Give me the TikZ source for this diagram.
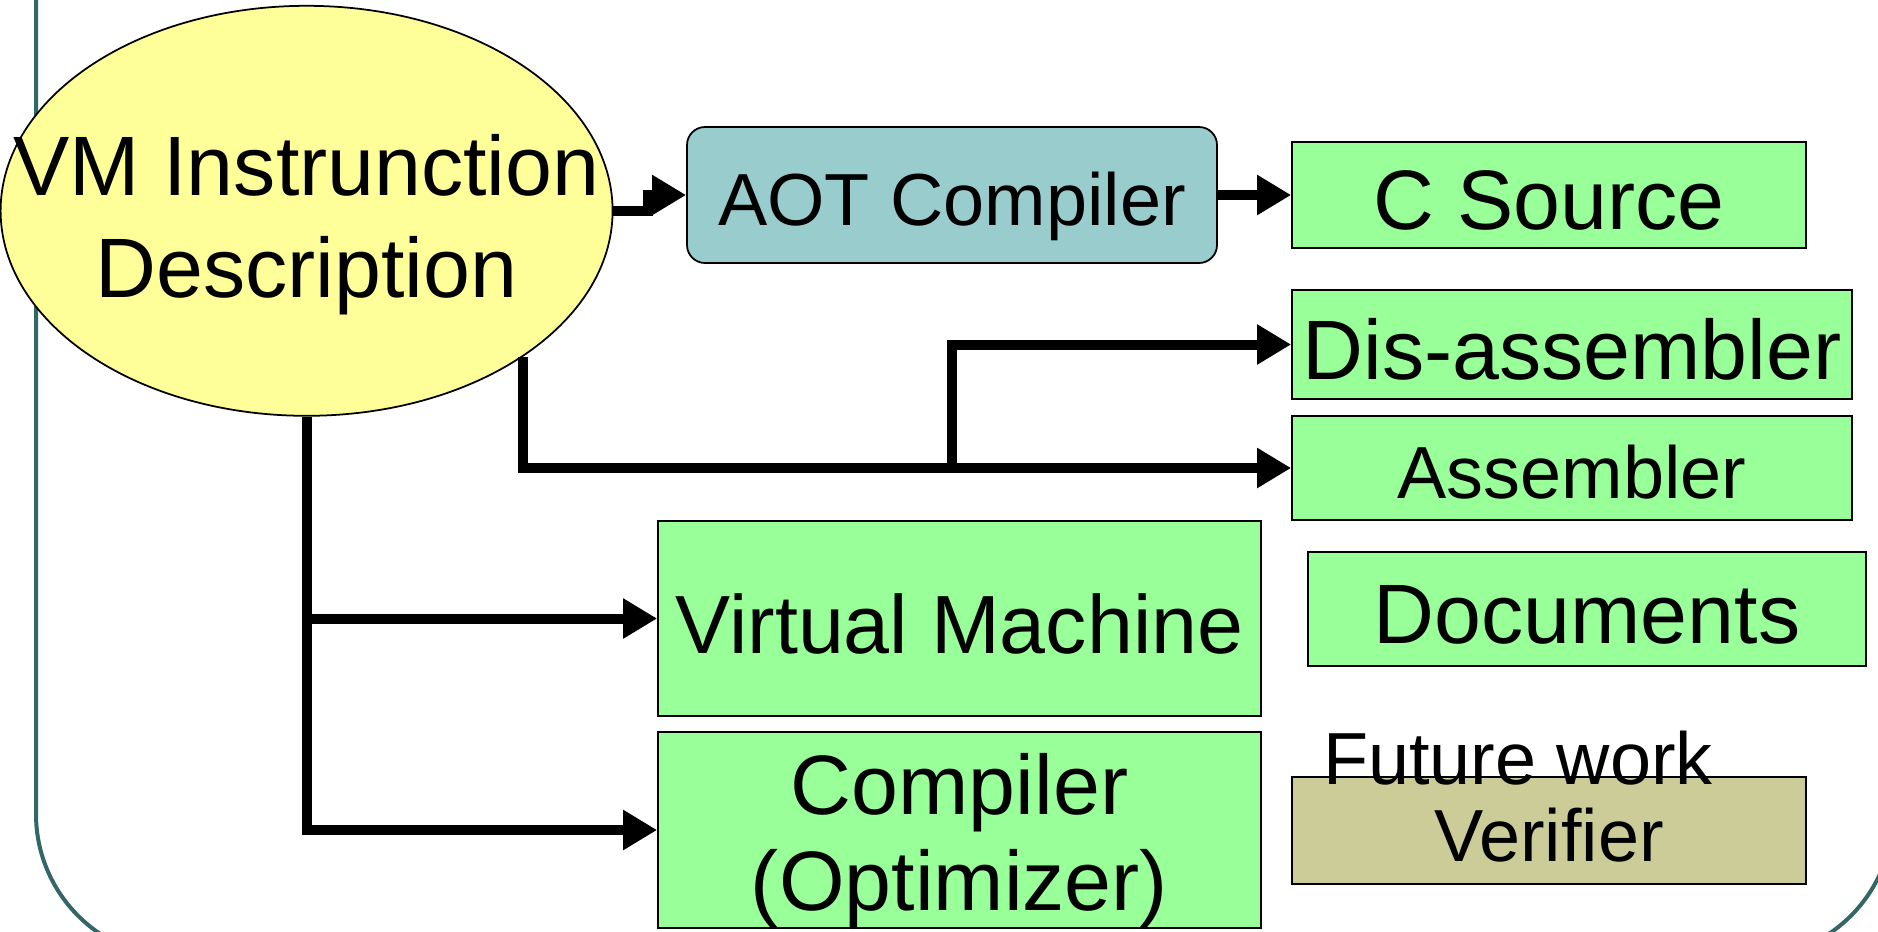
\documentclass[tikz,border=0pt]{standalone}
\usepackage{fontspec}
\setmainfont{Liberation Sans}
\usetikzlibrary{arrows.meta,shapes.geometric}
\definecolor{FrameTeal}{RGB}{51,102,102}
\definecolor{DescYellow}{RGB}{255,255,153}
\definecolor{AotCyan}{RGB}{153,204,204}
\definecolor{ToolGreen}{RGB}{153,255,153}
\definecolor{FutureKhaki}{RGB}{204,204,153}
\tikzset{
    toolbox/.style={rectangle, draw=black, line width=0.5pt, fill=ToolGreen, inner sep=0pt, text height=6.9mm, text depth=0pt, font=\fontsize{24}{29}\selectfont},
    smalltext/.style={text height=6.1mm, font=\fontsize{21}{25}\selectfont},
    conn/.style={draw=black, line width=1mm, -{Triangle[length=3.4mm, width=3.8mm]}},
    frameline/.style={draw=FrameTeal, line width=0.4mm, rounded corners=14.4mm}
}

\begin{document}
\begin{tikzpicture}[
                x=0.1mm, y=-0.1mm,
                descnode/.style={
                    ellipse,
                    draw=black,
                    line width=0.5pt,
                    fill=DescYellow,
                    minimum width=61.2mm,
                    minimum height=41mm,
                    inner sep=0pt
                },
                aotbox/.style={toolbox, fill=AotCyan, rounded corners=1.8mm}
            ]
                \useasboundingbox (0,0) rectangle (1878,931);
                \clip (0,0) rectangle (1878,931);
                % frame
                \draw[frameline] (36,-200) rectangle (1893,958);
                % description
                \node[descnode, label={[yshift=-1.37mm, align=center, font=\fontsize{24}{29}\selectfont]center:VM Instrunction\\Description}] (ell) at (306.6,210.8) {};
                % generated tools
                \node[aotbox, smalltext, minimum width=53mm, minimum height=13.6mm] (aot) at (952,195) {AOT Compiler};
                \node[toolbox, minimum width=51.4mm, minimum height=10.6mm] (csrc) at (1549,195) {C Source};
                \node[toolbox, minimum width=56mm, minimum height=10.9mm] (dis) at (1572,344.5) {Dis-assembler};
                \node[toolbox, smalltext, minimum width=56mm, minimum height=10.4mm] (asm) at (1572,468) {Assembler};
                \node[toolbox, minimum width=60.3mm, minimum height=19.5mm, font=\fontsize{23.5}{28}\selectfont] (vm) at (959.5,618.5) {Virtual Machine};
                \node[toolbox, minimum width=60.3mm, minimum height=19.6mm, label={[yshift=-1.05mm, align=center, font=\fontsize{24}{27.2}\selectfont]center:Compiler\\(Optimizer)}] (cmp) at (959.5,830) {};
                \node[toolbox, minimum width=55.8mm, minimum height=11.4mm] (docs) at (1587,609) {Documents};
                % future work
                \node[toolbox, smalltext, fill=FutureKhaki, minimum width=51.4mm, minimum height=10.7mm] (ver) at (1549,830.5) {Verifier};
                \node[anchor=base, inner sep=0pt, font=\fontsize{21}{25}\selectfont] (fut) at (1518,784) {Future work};
                % connectors
                \coordinate (split) at (952,0);
                \draw[conn] (ell.east) -- ++(35,0) |- (aot.west);
                \draw[conn] (aot.east) -- (csrc.west);
                \draw[conn] (ell.-34) |- (asm.west);
                \draw[conn] (split |- asm.west) |- (dis.west);
                \draw[conn] (ell.south) |- (cmp.west);
                \draw[conn] (ell.south |- vm.west) -- (vm.west);
            \end{tikzpicture}
\end{document}
